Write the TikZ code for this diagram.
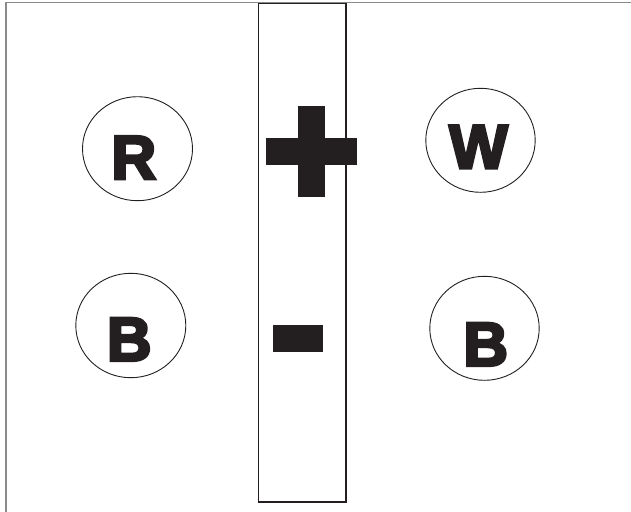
\documentclass[tikz,border=0pt]{standalone}
\usepackage{fontspec}
\newfontfamily\blk[FakeBold=4.5]{Liberation Sans Bold}
\definecolor{ink}{HTML}{231F20}
\definecolor{frame}{HTML}{8A8A8A}
\tikzset{
  ring/.style={draw=ink, line width=0.9pt},
  letter/.style={anchor=base, inner sep=0pt, text=ink, font=\blk\fontsize{62}{62}\selectfont},
}
\begin{document}
\begin{tikzpicture}[x=1pt,y=-1pt]
\useasboundingbox (0,0) rectangle (631,511);
% outer frame (left and top edges)
\draw[frame, line width=1.5pt] (6,514) -- (6,2.5) -- (634,2.5);
% middle strip
\draw[ink, line width=1.2pt] (258.3,3.5) rectangle (346,502);
% circles
\draw[ring] (137.5,148.7) ellipse [x radius=55, y radius=52];
\draw[ring] (480.5,140.3) ellipse [x radius=54.7, y radius=52];
\draw[ring] (130.8,325.5) ellipse [x radius=55, y radius=52.2];
\draw[ring] (484.5,328.3) ellipse [x radius=54.7, y radius=52];
% letters
\node[letter] (r) at (133.8,179) {R};
\node[letter] (w) at (478.5,168.3) {W};
\node[letter] (bl) at (129.2,360.7) {B};
\node[letter] (br) at (485.7,365.7) {B};
% plus
\fill[ink] (298.2,106) rectangle (325.2,197.3);
\fill[ink] (266,138) rectangle (357.3,165);
% minus
\fill[ink] (272.8,325) rectangle (323.1,351.7);
\end{tikzpicture}
\end{document}
